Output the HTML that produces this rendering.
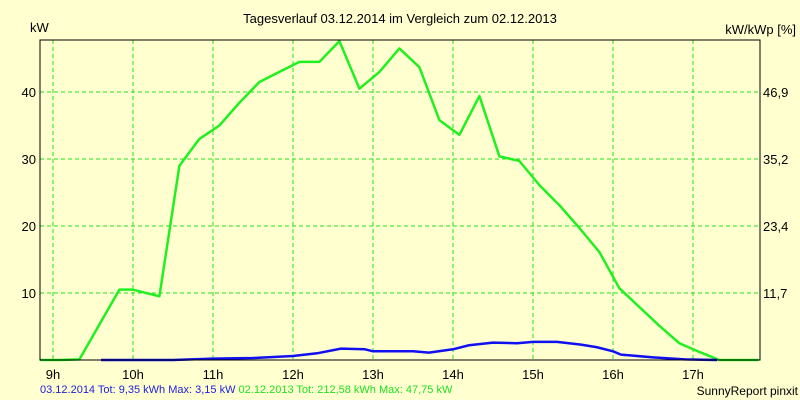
<!DOCTYPE html>
<html><head><meta charset="utf-8"><style>
body{margin:0;background:#ffffd0;}
svg{display:block;font-family:"Liberation Sans",sans-serif;}
</style></head><body>
<svg id="chart" width="800" height="400">
<rect x="0" y="0" width="800" height="400" fill="#ffffd0"/>
<text x="400" y="23" font-size="13" text-anchor="middle" fill="#000">Tagesverlauf 03.12.2014 im Vergleich zum 02.12.2013</text>
<text x="30" y="32" font-size="13" fill="#000">kW</text>
<text x="796" y="34" font-size="13" text-anchor="end" fill="#000">kW/kWp [%]</text>
<g id="grid"></g>
<g id="series"></g>
<rect x="40" y="40" width="720" height="320" fill="none" stroke="#000" stroke-width="1"/>
<g id="labels"></g>
<text x="40" y="393" font-size="11"><tspan fill="#2020e0">03.12.2014 Tot: 9,35 kWh Max: 3,15 kW</tspan><tspan fill="#20e020" dx="0"> 02.12.2013 Tot: 212,58 kWh Max: 47,75 kW</tspan></text>
<text x="798" y="395" font-size="12" text-anchor="end" fill="#000">SunnyReport pinxit</text>
</svg>
<script>
const hourTicks=[9,10,11,12,13,14,15,16,17];
const yTicks=[10,20,30,40];
const y2Labels=["11,7","23,4","35,2","46,9"];
const greenTimes=[8.84,9.09,9.33,9.83,10.0,10.33,10.58,10.83,11.08,11.33,11.58,11.83,12.08,12.33,12.58,12.83,13.08,13.33,13.58,13.83,14.08,14.33,14.58,14.83,15.08,15.33,15.58,15.83,16.08,16.33,16.58,16.83,17.08,17.33,17.82];
const greenValues=[0,0,0.1,10.5,10.5,9.5,29,33,35,38.4,41.5,43,44.5,44.5,47.6,40.5,43,46.5,43.7,35.8,33.6,39.4,30.4,29.7,26.1,23.1,19.7,16.1,10.7,7.9,5.1,2.5,1.2,0,0];
const blueTimes=[9.6,10.5,11.0,11.5,12.0,12.3,12.6,12.9,13.0,13.5,13.7,14.0,14.2,14.5,14.8,15.0,15.3,15.6,15.8,16.0,16.1,16.5,16.9,17.3];
const blueValues=[0,0,0.2,0.3,0.6,1.0,1.7,1.6,1.3,1.3,1.1,1.6,2.2,2.6,2.5,2.7,2.7,2.3,1.9,1.3,0.8,0.4,0.1,0];
const NS="http://www.w3.org/2000/svg";
const xs=h=>53+(h-9)*80;
const ys=v=>360-v*6.7;
const grid=document.getElementById('grid'),series=document.getElementById('series'),labels=document.getElementById('labels');
function mk(tag,attrs,parent){const e=document.createElementNS(NS,tag);for(const k in attrs)e.setAttribute(k,attrs[k]);parent.appendChild(e);return e;}
hourTicks.forEach(h=>{
 const l=mk('line',{x1:xs(h),x2:xs(h),y1:40,y2:360,stroke:'#20e020','stroke-dasharray':'4,3'},grid);
 
 
 const t=mk('text',{x:xs(h),y:379,'font-size':13,'text-anchor':'middle'},labels);
 t.textContent=h+'h';
 
 
});
yTicks.forEach((v,i)=>{
 const l=mk('line',{x1:40,x2:760,y1:ys(v),y2:ys(v),stroke:'#20e020','stroke-dasharray':'4,3'},grid);
 
 
 const t=mk('text',{x:36,y:ys(v)+5,'font-size':13,'text-anchor':'end'},labels);
 t.textContent=v;
 
 
 const t2=mk('text',{x:763,y:ys(v)+5,'font-size':13},labels);
 t2.textContent=y2Labels[i];
 
 
});
const g=mk('polyline',{points:greenTimes.map((t,i)=>xs(t)+','+ys(greenValues[i])).join(' '),fill:'none',stroke:'#20f020','stroke-width':2.5,'stroke-linejoin':'round'},series);


const b=mk('polyline',{points:blueTimes.map((t,i)=>xs(t)+','+ys(blueValues[i])).join(' '),fill:'none',stroke:'#1010f0','stroke-width':2.5,'stroke-linejoin':'round'},series);


</script>
</body></html>
